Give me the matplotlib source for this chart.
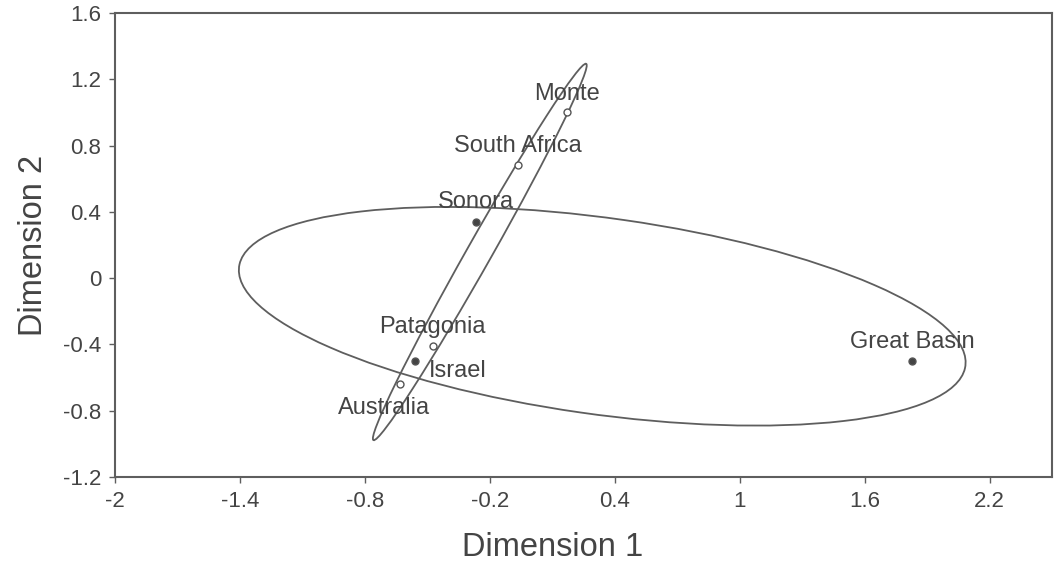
import matplotlib
matplotlib.use("Agg")
import matplotlib.pyplot as plt
from matplotlib.patches import Ellipse

# Data
sites = ["Monte", "South Africa", "Sonora", "Patagonia", "Israel", "Australia", "Great Basin"]
dim1 = [0.17, -0.065, -0.265, -0.475, -0.56, -0.63, 1.83]
dim2 = [1.00, 0.68, 0.34, -0.41, -0.50, -0.64, -0.50]
filled = [False, False, True, False, True, False, True]
label_offsets = [(0, 13), (0, 14), (0, 14), (0, 14), (31, -7), (-12, -17), (0, 14)]

# Ellipses (center x, center y, width, height, angle) in data units
ell_cx = [0.34, -0.248]
ell_cy = [-0.23, 0.158]
ell_w = [3.54, 2.49]
ell_h = [1.18, 0.125]
ell_ang = [-10.2, 65.8]

xticks = [-2, -1.4, -0.8, -0.2, 0.4, 1, 1.6, 2.2]
yticks = [-1.2, -0.8, -0.4, 0, 0.4, 0.8, 1.2, 1.6]

plt.rcParams['font.family'] = ['Liberation Sans', 'DejaVu Sans']
txt = '#444444'
lc = '#5e5e5e'

fig = plt.figure(figsize=(10.56, 5.61), dpi=100)
ax = fig.add_axes([115/1056, 1-477/561, (1052-115)/1056, (477-13)/561])
ax.set_xlim(-2, 2.5)
ax.set_ylim(-1.2, 1.6)

for cx, cy, w, h, a in zip(ell_cx, ell_cy, ell_w, ell_h, ell_ang):
    ax.add_patch(Ellipse((cx, cy), w, h, angle=a, fill=False, edgecolor=lc, lw=1.3))

for x, y, f, name, off in zip(dim1, dim2, filled, sites, label_offsets):
    ax.plot(x, y, 'o', ms=5, mew=1.0, mec='#555555',
            mfc='#444444' if f else 'white', zorder=3)
    ax.annotate(name, (x, y), xytext=off, textcoords='offset points',
                ha='center', va='center', fontsize=17, color=txt)

ax.set_xticks(xticks)
ax.set_xticklabels([f"{v:g}" for v in xticks])
ax.set_yticks(yticks)
ax.set_yticklabels([f"{v:g}" for v in yticks])
ax.tick_params(direction='out', length=4, width=1, color=lc, labelcolor=txt, labelsize=16, pad=6)
for s in ax.spines.values():
    s.set_color(lc)
    s.set_linewidth(1.5)

ax.set_xlabel("Dimension 1", fontsize=23.5, color=txt, va='center')
ax.xaxis.set_label_coords(0.467, -0.151)
ax.set_ylabel("Dimension 2", fontsize=23.5, color=txt, labelpad=10)

fig.savefig("out.png", dpi=100)
